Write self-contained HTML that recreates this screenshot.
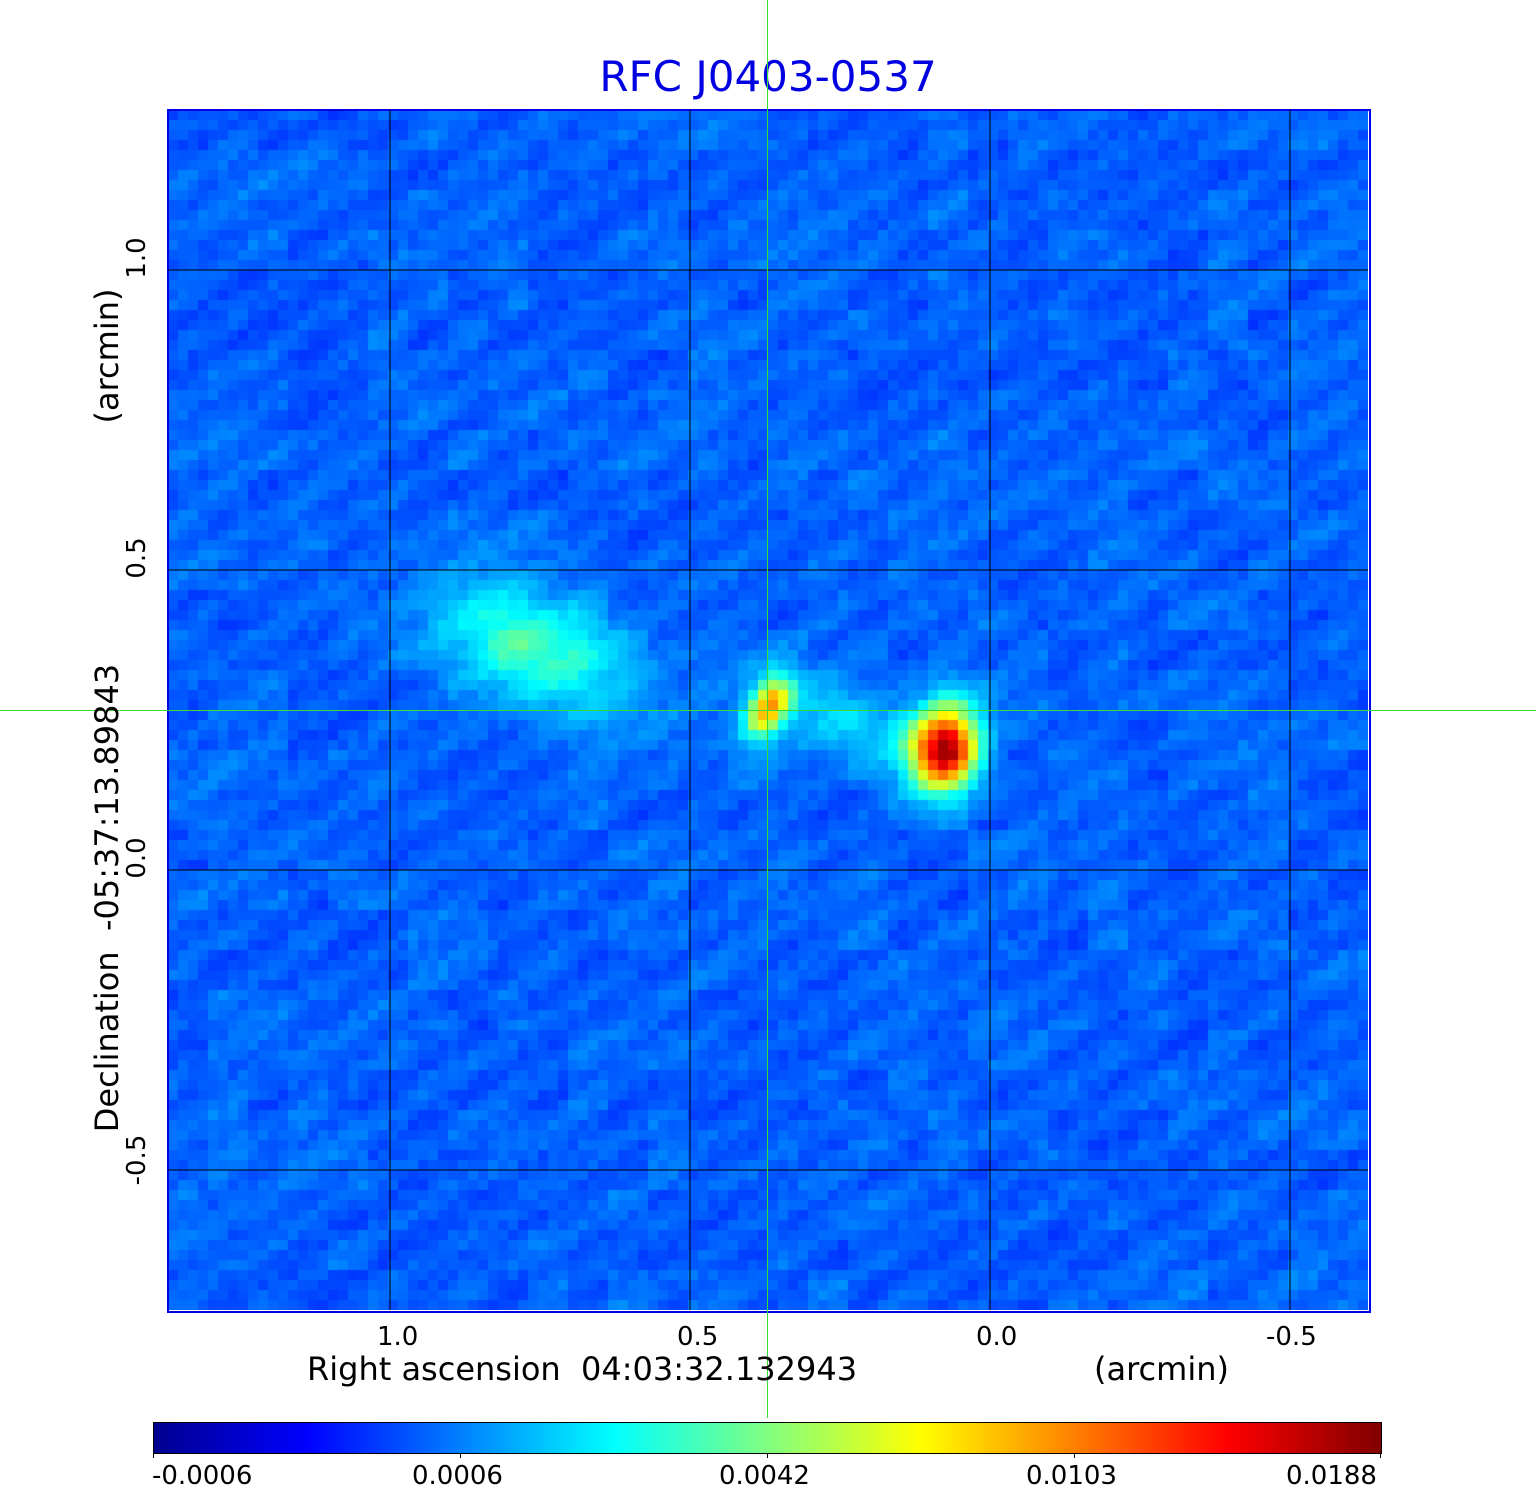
<!DOCTYPE html>
<html><head><meta charset="utf-8"><style>
body{margin:0;background:#fff;width:1536px;height:1511px;position:relative;overflow:hidden;font-family:"DejaVu Sans","Liberation Sans",sans-serif}
.t{position:absolute;white-space:nowrap;color:#000}
.rot{position:absolute;white-space:nowrap;transform:translate(-50%,-50%) rotate(-90deg);color:#000}
</style></head><body>
<div class="t" style="left:0;width:1536px;text-align:center;top:52px;font-size:42px;color:#0000e0">RFC J0403-0537</div>
<canvas id="img" width="1200" height="1200" style="position:absolute;left:168px;top:110px"></canvas>
<div style="position:absolute;left:167px;top:109px;width:1200px;height:1200px;border:2px solid #0000e6"></div>
<svg width="1536" height="1511" style="position:absolute;left:0;top:0" id="ov">
</svg>
<div class="rot" style="left:137px;top:258px;font-size:26px">1.0</div>
<div class="rot" style="left:137px;top:558px;font-size:26px">0.5</div>
<div class="rot" style="left:137px;top:858px;font-size:26px">0.0</div>
<div class="rot" style="left:137px;top:1160px;font-size:26px">-0.5</div>
<div class="rot" style="left:107px;top:898px;font-size:32px">Declination&nbsp; -05:37:13.89843</div>
<div class="rot" style="left:107px;top:356px;font-size:32px">(arcmin)</div>
<div class="t" style="left:377px;top:1322px;font-size:26px">1.0</div>
<div class="t" style="left:677px;top:1322px;font-size:26px">0.5</div>
<div class="t" style="left:976px;top:1322px;font-size:26px">0.0</div>
<div class="t" style="left:1266px;top:1322px;font-size:26px">-0.5</div>
<div class="t" style="left:307px;top:1350px;font-size:32px">Right ascension&nbsp; 04:03:32.132943</div>
<div class="t" style="left:1094px;top:1350px;font-size:32px">(arcmin)</div>
<div style="position:absolute;left:153px;top:1422px;width:1227px;height:30px;border:1px solid #000;background:linear-gradient(to right,#00008f 0%,#0000ff 12.5%,#0080ff 25%,#00ffff 37.5%,#80ff80 50%,#ffff00 62.5%,#ff8000 75%,#ff0000 87.5%,#800000 100%)"></div>
<div class="t" style="left:152px;top:1461px;font-size:26px">-0.0006</div>
<div class="t" style="left:412px;top:1461px;font-size:26px">0.0006</div>
<div class="t" style="left:719px;top:1461px;font-size:26px">0.0042</div>
<div class="t" style="left:1026px;top:1461px;font-size:26px">0.0103</div>
<div class="t" style="left:1286px;top:1461px;font-size:26px">0.0188</div>
<script>
// sources: position in arcmin (RA offset, Dec offset), peak colormap level, sigmas (arcmin), angle(deg)
const srcX=[0.76,0.37,0.075,0.24];
const srcY=[0.37,0.27,0.205,0.245];
const srcPeak=[0.23,0.46,0.74,0.12];
const srcSx=[0.12,0.022,0.038,0.11];
const srcSy=[0.065,0.04,0.05,0.04];
const srcAng=[-25,-25,-10,-20];
const bgLevel=0.22;
const xTicks=[1.0,0.5,0.0,-0.5];
const yTicks=[1.0,0.5,0.0,-0.5];
const cx=v=>990-600*v, cy=v=>870-600*v;
function jet(t){t=Math.max(0,Math.min(1,t));const c=v=>Math.round(255*Math.max(0,Math.min(1,v)));
return [c(1.5-Math.abs(4*t-3)),c(1.5-Math.abs(4*t-2)),c(1.5-Math.abs(4*t-1))];}
function h(i,j){let n=(i*374761393+j*668265263)|0;n=(n^(n>>>13))*1274126177|0;return ((n^(n>>>16))>>>0)/4294967295;}
const cv=document.getElementById('img').getContext('2d');
for(let i=0;i<120;i++)for(let j=0;j<120;j++){
 const px=168+i*10+5, py=110+j*10+5;
 const ax=(990-px)/600, ay=(870-py)/600;
 let v=bgLevel+0.035*(h(i,j)-0.5)+0.015*Math.sin((i+j*1.6)*0.7)+0.035*(h(i>>2,j>>2)-0.5);
 for(let k=0;k<srcX.length;k++){const a=srcAng[k]*Math.PI/180;const dx=ax-srcX[k],dy=ay-srcY[k];
  const u=dx*Math.cos(a)-dy*Math.sin(a),w=dx*Math.sin(a)+dy*Math.cos(a);
  v+=srcPeak[k]*Math.exp(-0.5*(u*u/(srcSx[k]**2)+w*w/(srcSy[k]**2)));}
 const c=jet(v);cv.fillStyle=`rgb(${c[0]},${c[1]},${c[2]})`;cv.fillRect(i*10,j*10,10,10);}
const ov=document.getElementById('ov');const NS='http://www.w3.org/2000/svg';
function ln(x1,y1,x2,y2,col,w,name){const l=document.createElementNS(NS,'line');
l.setAttribute('x1',x1);l.setAttribute('y1',y1);l.setAttribute('x2',x2);l.setAttribute('y2',y2);
l.setAttribute('stroke',col);l.setAttribute('stroke-width',w);


ov.appendChild(l);}
xTicks.forEach(v=>ln(cx(v),110,cx(v),1310,'#000',1,'x-gridline'));
yTicks.forEach(v=>ln(168,cy(v),1368,cy(v),'#000',1,'y-gridline'));
ln(767.5,0,767.5,1418,'#33dd33',1,'crosshair-vertical');
ln(0,710.5,1536,710.5,'#33dd33',1,'crosshair-horizontal');
[153.5,460.5,767.5,1074.5,1380.5].forEach(x=>ln(x,1452,x,1458,'#000',1,'colorbar-tick'));
</script>
</body></html>
